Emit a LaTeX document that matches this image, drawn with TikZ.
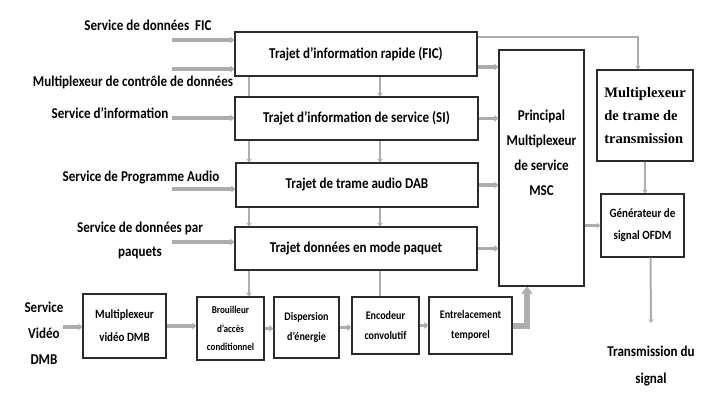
\documentclass[tikz,border=0pt]{standalone}
\usepackage{fontspec}
\setmainfont{Carlito}[FakeStretch=0.87]
\newfontfamily\trameface{Liberation Serif}
\usetikzlibrary{arrows.meta}
\definecolor{feedgray}{HTML}{ADADAD}
\definecolor{boxline}{HTML}{2B2B2B}
\tikzset{
	fs/.style 2 args={font=\bfseries\fontsize{#1}{#2}\selectfont},
	blok/.style={draw=boxline, line width=1.1pt, fill=white, align=center, inner sep=1pt, fs={15}{17}},
	lbl/.style={align=center, inner sep=1pt, fs={15}{24}},
	feed/.style={draw=feedgray, line width=3.5pt, -{Triangle[width=6.5pt,length=4pt]}},
	link/.style={draw=feedgray, line width=2pt, -{Triangle[width=5pt,length=3.5pt]}},
	bare/.style={draw=feedgray, line width=2pt},
	fat/.style={draw=feedgray, line width=6pt, -{Triangle[width=11pt,length=7pt]}}
}

\begin{document}
\begin{tikzpicture}[x=1pt,y=-1pt]
			%%%%% START %%%%%
			\useasboundingbox (0,0) rectangle (715,402);
			
			% trajets
			\node[blok, minimum width=242pt, minimum height=44pt] (fic) at (356,54) {Trajet d'information rapide (FIC)};
			\node[blok, minimum width=243pt, minimum height=43pt] (si) at (356.5,118.5) {Trajet d'information de service (SI)};
			\node[blok, minimum width=242pt, minimum height=44pt] (dab) at (357,185) {Trajet de trame audio DAB};
			\node[blok, minimum width=242pt, minimum height=43pt] (paq) at (356,248.5) {Trajet données en mode paquet};
			
			\node[blok, fs={15}{25}, minimum width=85pt, minimum height=236pt] (msc) at (541.5,168) {Principal\\Multiplexeur\\de service\\MSC\\[6pt]};
			\node[blok, font=\trameface\bfseries\fontsize{14.5}{23}\selectfont, align=left, minimum width=96pt, minimum height=91pt] (trame) at (645,115.5) {Multiplexeur\\de trame de\\transmission};
			\node[blok, fs={12.6}{22}, minimum width=83pt, minimum height=63pt] (gen) at (642.5,225.5) {Générateur de\\signal OFDM};
			
			% chaine DMB
			\node[blok, fs={12.6}{23}, minimum width=83pt, minimum height=64pt] (vmux) at (124.5,326) {Multiplexeur\\vidéo DMB};
			\node[blok, fs={10.4}{18.5}, minimum width=67pt, minimum height=63pt] (brou) at (230.5,328.5) {Brouilleur\\d’accès\\conditionnel};
			\node[blok, fs={11.6}{20}, minimum width=65pt, minimum height=61pt] (disp) at (306.5,327.5) {Dispersion\\d’énergie};
			\node[blok, fs={11.6}{20}, minimum width=67pt, minimum height=57pt] (enc) at (385.5,325.5) {Encodeur\\convolutif};
			\node[blok, fs={11.6}{20}, minimum width=83pt, minimum height=57pt] (entr) at (470.5,325.5) {Entrelacement\\temporel};
			
			% sources
			\node[lbl] (ficsrc) at (148,25) {Service de données\ \ FIC};
			\node[lbl] (ctrlsrc) at (133,82) {Multiplexeur de contrôle de données};
			\node[lbl] (sisrc) at (110,113) {Service d’information};
			\node[lbl] (audsrc) at (141,178) {Service de Programme Audio};
			\node[lbl] (paqsrc) at (140,240) {Service de données par\\paquets};
			\node[lbl, fs={15}{26}] (vidsrc) at (44,333) {Service\\Vidéo\\DMB};
			\node[lbl, fs={15}{27}] (txsig) at (651,366) {Transmission du\\signal};
			
			\coordinate (ficin) at (172,40);
			\coordinate (ctrlin) at (172,69);
			\coordinate (siin) at (172,118);
			\coordinate (audin) at (172,189);
			\coordinate (paqin) at (172,242);
			\coordinate (vidin) at (63,327);
			\coordinate (txend) at (651,323);
			\coordinate (xl) at (249,0);
			\coordinate (xr) at (380,0);
			\coordinate (ficout) at ([yshift=-13pt]fic.east);
			\coordinate (ficup) at ([yshift=17pt]fic.east);
			
			% entrees
			\draw[feed] (ficin) -- (ficin -| fic.west);
			\draw[feed] (ctrlin) -- (ctrlin -| fic.west);
			\draw[feed] (siin) -- (siin -| si.west);
			\draw[feed] (audin) -- (audin -| dab.west);
			\draw[feed] (paqin) -- (paqin -| paq.west);
			
			% liaisons verticales
			\draw[bare] (fic.south -| xl) -- (si.north -| xl);
			\draw[link] (fic.south -| xr) -- (si.north -| xr);
			\draw[link] (si.south -| xl) -- (dab.north -| xl);
			\draw[link] (si.south -| xr) -- (dab.north -| xr);
			\draw[link] (dab.south -| xl) -- (paq.north -| xl);
			\draw[link] (dab.south -| xr) -- (paq.north -| xr);
			\draw[link] (paq.south -| xl) -- (brou.north -| xl);
			\draw[bare] (paq.south -| xr) -- (enc.north -| xr);
			
			% vers MSC
			\draw[feed] (ficout) -- (ficout -| msc.west);
			\draw[feed] (si.east) -- (si.east -| msc.west);
			\draw[feed] (dab.east) -- (dab.east -| msc.west);
			\draw[feed] (paq.east) -- (paq.east -| msc.west);
			
			\draw[link, line width=2.5pt] (ficup) -| ([xshift=-7pt]trame.north);
			\draw[link] (trame.south) -- (trame.south |- gen.north);
			\draw[link, line width=2.5pt] (msc.east |- gen.west) -- (gen.west);
			\draw[link] ([xshift=8pt]gen.south) -- (txend);
			
			% DMB
			\draw[feed] (vidin) -- (vidin -| vmux.west);
			\draw[feed] (vmux.east) -- (vmux.east -| brou.west);
			\draw[feed] (brou.east) -- (brou.east -| disp.west);
			\draw[feed] (disp.east) -- (disp.east -| enc.west);
			\draw[feed] (enc.east) -- (enc.east -| entr.west);
			\draw[fat] (entr.east) -| ([xshift=-14.5pt]msc.south);
			
			%%%%% END %%%%%
\end{tikzpicture}
\end{document}
